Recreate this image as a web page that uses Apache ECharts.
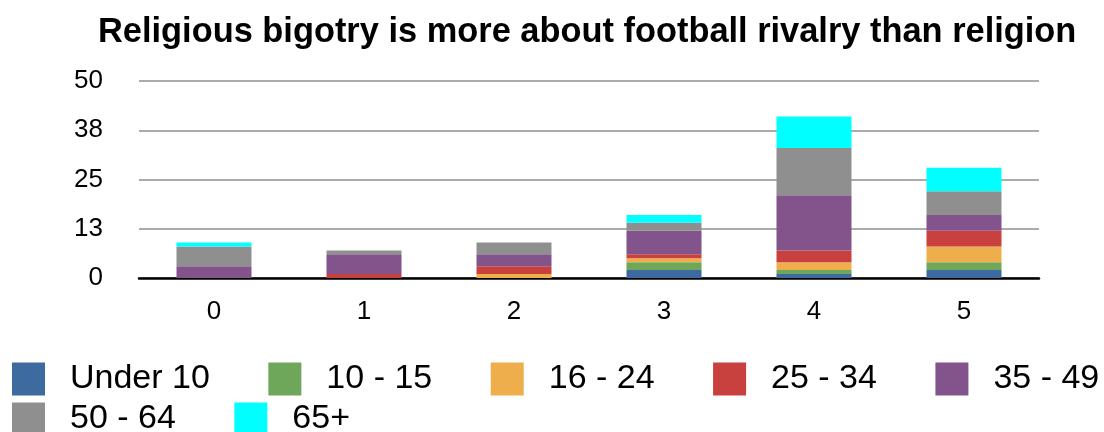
<!DOCTYPE html>
<html>
<head>
<meta charset="utf-8">
<script src="https://cdn.jsdelivr.net/npm/echarts@6/dist/echarts.min.js"></script>
<style>
  html, body { margin: 0; padding: 0; background: #fff; }
  #chart { width: 1104px; height: 432px; }
</style>
</head>
<body>
<div id="chart"></div>
<script>
// Survey scores (0-5) and responses per age group
const categories = ['0', '1', '2', '3', '4', '5'];
const under10 = [0, 0, 0, 2, 1, 2];
const age10to15 = [0, 0, 0, 2, 1, 2];
const age16to24 = [0, 0, 1, 1, 2, 4];
const age25to34 = [0, 1, 2, 1, 3, 4];
const age35to49 = [3, 5, 3, 6, 14, 4];
const age50to64 = [5, 1, 3, 2, 12, 6];
const age65plus = [1, 0, 0, 2, 8, 6];

const seriesNames = ['Under 10', '10 - 15', '16 - 24', '25 - 34', '35 - 49', '50 - 64', '65+'];
const seriesValues = [under10, age10to15, age16to24, age25to34, age35to49, age50to64, age65plus];
const seriesColors = ['#3d6ba0', '#6ea75a', '#eeae4b', '#c9413e', '#83538b', '#8e8f8e', '#00ffff'];

// Value axis ticks 0, 12.5, 25, 37.5, 50 shown rounded
const yTickLabels = ['0', '13', '25', '38', '50'];
const yMax = 50;
const yInterval = 12.5;

const font = '"Liberation Sans", Arial, Helvetica, sans-serif';

const chart = echarts.init(document.getElementById('chart'), null, { renderer: 'canvas' });

const legendCommon = {
  orient: 'horizontal',
  padding: 0,
  itemWidth: 33,
  itemHeight: 33,
  itemGap: 58.5,
  icon: 'rect',
  textStyle: { fontFamily: font, fontSize: 34, color: '#000', padding: [0, 0, 0, 20] }
};

chart.setOption({
  animation: false,
  backgroundColor: '#fff',
  title: {
    text: 'Religious bigotry is more about football rivalry than religion',
    left: 93,
    top: 11,
    textStyle: { fontFamily: font, fontSize: 34.4, fontWeight: 'bold', color: '#000' }
  },
  legend: [
    Object.assign({}, legendCommon, { left: 12, top: 362, data: seriesNames.slice(0, 5) }),
    Object.assign({}, legendCommon, { left: 12, top: 402, data: seriesNames.slice(5) })
  ],
  grid: { left: 139, right: 65, top: 81, bottom: 154 },
  xAxis: {
    type: 'category',
    data: categories,
    axisLine: { lineStyle: { color: '#000', width: 2.5 } },
    axisTick: { show: false },
    axisLabel: { fontFamily: font, fontSize: 26, color: '#000', margin: 21 }
  },
  yAxis: {
    type: 'value',
    min: 0,
    max: yMax,
    interval: yInterval,
    axisLine: { show: false },
    axisTick: { show: false },
    splitLine: { lineStyle: { color: '#ababab', width: 2 } },
    axisLabel: {
      fontFamily: font, fontSize: 26, color: '#000', margin: 36,
      formatter: function (v) { return yTickLabels[Math.round(v / yInterval)]; }
    }
  },
  series: seriesNames.map(function (name, i) {
    return {
      name: name,
      type: 'bar',
      stack: 'total',
      barWidth: '50%',
      data: seriesValues[i],
      itemStyle: { color: seriesColors[i] }
    };
  })
});
</script>
</body>
</html>
